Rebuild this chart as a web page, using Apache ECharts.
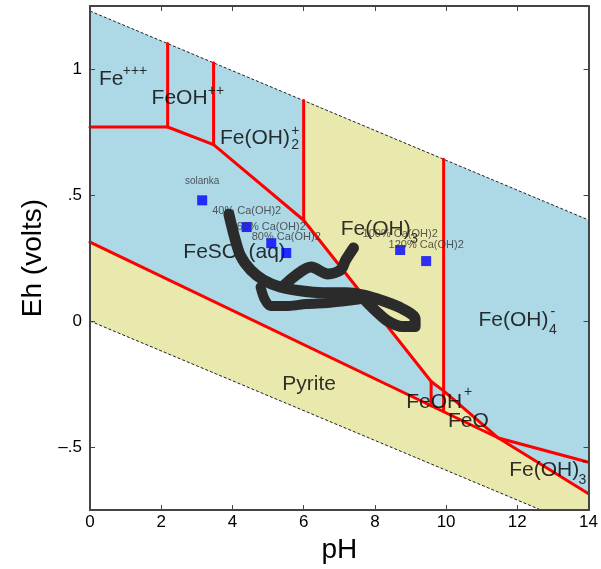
<!DOCTYPE html>
<html><head><meta charset="utf-8">
<script src="https://cdn.jsdelivr.net/npm/echarts@6/dist/echarts.min.js"></script>
<style>html,body{margin:0;padding:0;background:#fff}#c{width:601px;height:569px}</style>
</head><body><div id="c"></div>
<script>
// ---- axes ----
const xTicks = [0, 2, 4, 6, 8, 10, 12, 14];
const yTicks = [-0.5, 0, 0.5, 1];
const yTickLabels = ['\u2013.5', '0', '.5', '1'];

// ---- water stability limits (pH, Eh) ----
const waterTop = [[0, 1.23], [14, 0.401]];
const waterBottom = [[0, 0], [12.67, -0.75]];

// ---- predominance fields (pH, Eh) ----
const stableBand = [[0, 0], [0, 1.23], [14, 0.401], [14, -0.75], [12.67, -0.75]];
const fieldFeOH3 = [[6, 0.40], [6, 0.875], [9.93, 0.642], [9.93, -0.277], [9.58, -0.24]];
const fieldFeO = [[9.93, -0.277], [11.47, -0.464], [9.93, -0.359]];
const fieldPyrite = [[0, 0.313], [11.47, -0.464], [14, -0.685], [14, -0.75], [12.67, -0.75], [0, 0]];

// ---- field boundaries ----
const bMain = [[0, 0.77], [2.18, 0.77], [3.47, 0.70], [6, 0.40], [9.58, -0.24], [9.93, -0.277], [11.47, -0.464], [14, -0.56]];
const bFe3 = [[2.18, 0.77], [2.18, 1.101]];
const bFeOH = [[3.47, 0.70], [3.47, 1.025]];
const bFeOH2 = [[6, 0.40], [6, 0.875]];
const bFeOH4 = [[9.93, 0.642], [9.93, -0.359]];
const bFeOHp = [[9.58, -0.24], [9.58, -0.336]];
const bPyrite = [[0, 0.313], [11.47, -0.464], [14, -0.685]];

// ---- field labels ----
const fieldText = ['Fe', '+++', 'FeOH', '++', 'Fe(OH)', '2', '+', 'FeSO', '4', '(aq)', 'Fe(OH)', '3',
  'Fe(OH)', '4', '-', 'Pyrite', 'FeOH', '+', 'FeO', 'Fe(OH)', '3', '-'];
const fieldKind = ['m', 's', 'm', 's', 'm', 's', 's', 'm', 's', 'm', 'm', 's',
  'm', 's', 's', 'm', 'm', 's', 'm', 'm', 's', 's'];
const fieldPH = [0.25, 0.92, 1.73, 3.31, 3.65, 5.65, 5.65, 2.62, 4.14, 4.45, 7.04, 8.99,
  10.91, 12.89, 12.93, 5.40, 8.88, 10.50, 10.05, 11.77, 13.72, 13.82];
const fieldEh = [0.958, 0.993, 0.886, 0.914, 0.724, 0.697, 0.752, 0.274, 0.238, 0.274, 0.365, 0.325,
  0.005, -0.035, 0.035, -0.252, -0.323, -0.283, -0.398, -0.592, -0.631, -0.560];

// ---- samples ----
const sampleNames = ['solanka', '40% Ca(OH)2', '60% Ca(OH)2', '80% Ca(OH)2', '100% Ca(OH)2', '120% Ca(OH)2'];
const samplePH = [3.15, 4.40, 5.09, 5.51, 8.71, 9.44];
const sampleEh = [0.479, 0.373, 0.309, 0.270, 0.282, 0.238];

// ---- hand-drawn trace ----
const traceMain = [[3.90, 0.424], [4.06, 0.333], [4.23, 0.258], [4.51, 0.203], [4.87, 0.163], [5.34, 0.135],
  [5.90, 0.120], [6.54, 0.112], [7.18, 0.112], [7.65, 0.104], [8.21, 0.081], [8.77, 0.049], [9.13, 0.009],
  [9.13, -0.022], [8.77, -0.022], [8.35, 0.001], [8.02, 0.041], [7.74, 0.080]];
const traceUpper = [[5.43, 0.139], [5.79, 0.183], [6.21, 0.214], [6.68, 0.187], [7.04, 0.203], [7.18, 0.242], [7.40, 0.290]];
const traceLower = [[4.79, 0.135], [4.90, 0.088], [5.07, 0.060], [5.57, 0.060], [6.07, 0.068], [6.68, 0.072], [7.24, 0.080], [7.65, 0.088]];

const BLUE = '#add8e6', YELLOW = '#e9e8ad', RED = '#ff0000', INK = '#2b2b2b';
const FONT = '"Liberation Sans", Arial, sans-serif';

function polySeries(poly, color, z) {
  return {
    type: 'custom', coordinateSystem: 'cartesian2d', z: z, silent: true, animation: false,
    data: [poly[0]],
    renderItem: function (params, api) {
      return { type: 'polygon', shape: { points: poly.map(function (p) { return api.coord(p); }) }, style: { fill: color } };
    }
  };
}
function lineSeries(pts, color, width, z, extra) {
  return Object.assign({
    type: 'line', data: pts, symbol: 'none', silent: true, z: z, animation: false,
    lineStyle: { color: color, width: width, cap: 'round', join: 'round' }
  }, extra || {});
}
const axisLineStyle = { show: true, onZero: false, lineStyle: { color: '#444', width: 2 } };
const tickStyle = { show: true, inside: true, length: 5, lineStyle: { color: '#444', width: 1 } };

const chart = echarts.init(document.getElementById('c'), null, { renderer: 'canvas' });
chart.setOption({
  animation: false,
  textStyle: { fontFamily: FONT },
  grid: { left: 90, right: 8, top: 6, bottom: 57 },
  xAxis: [
    { type: 'value', min: 0, max: 14, interval: 2, position: 'bottom', z: 20,
      axisLine: axisLineStyle, axisTick: tickStyle,
      axisLabel: { fontSize: 17, color: '#000', margin: 4, fontFamily: FONT },
      splitLine: { show: false },
      name: 'pH', nameLocation: 'middle', nameGap: 21,
      nameTextStyle: { fontSize: 28, color: '#000', fontFamily: FONT } },
    { type: 'value', min: 0, max: 14, interval: 2, position: 'top', z: 20,
      axisLine: axisLineStyle, axisTick: tickStyle, axisLabel: { show: false }, splitLine: { show: false } }
  ],
  yAxis: [
    { type: 'value', min: -0.75, max: 1.25, position: 'left', z: 20,
      axisLine: axisLineStyle,
      axisTick: Object.assign({ customValues: yTicks }, tickStyle),
      axisLabel: { fontSize: 17, color: '#000', margin: 8, fontFamily: FONT, customValues: yTicks,
        formatter: function (v) { for (let i = 0; i < yTicks.length; i++) if (Math.abs(yTicks[i] - v) < 1e-6) return yTickLabels[i]; return ''; } },
      splitLine: { show: false },
      name: 'Eh (volts)', nameLocation: 'middle', nameGap: 43,
      nameTextStyle: { fontSize: 28, color: '#000', fontFamily: FONT } },
    { type: 'value', min: -0.75, max: 1.25, position: 'right', z: 20,
      axisLine: axisLineStyle,
      axisTick: Object.assign({ customValues: yTicks }, tickStyle),
      axisLabel: { show: false }, splitLine: { show: false } }
  ],
  series: [
    polySeries(stableBand, BLUE, 1),
    polySeries(fieldFeOH3, YELLOW, 2),
    polySeries(fieldFeO, YELLOW, 2),
    polySeries(fieldPyrite, YELLOW, 2),
    lineSeries(waterTop, '#222', 1, 3, { lineStyle: { color: '#222', width: 1, type: [3, 2] } }),
    lineSeries(waterBottom, '#222', 1, 3, { lineStyle: { color: '#222', width: 1, type: [3, 2] } }),
    lineSeries(bMain, RED, 3, 4),
    lineSeries(bFe3, RED, 3, 4),
    lineSeries(bFeOH, RED, 3, 4),
    lineSeries(bFeOH2, RED, 3, 4),
    lineSeries(bFeOH4, RED, 3, 4),
    lineSeries(bFeOHp, RED, 3, 4),
    lineSeries(bPyrite, RED, 3, 4),
    {
      type: 'scatter', z: 6, silent: true, animation: false, symbolSize: 0,
      data: fieldText.map(function (t, i) {
        const main = fieldKind[i] === 'm';
        return { value: [fieldPH[i], fieldEh[i]], label: { show: true, formatter: t, position: 'right', distance: 0,
          fontSize: main ? 21 : 14, color: '#000', fontFamily: FONT } };
      })
    },
    {
      type: 'scatter', z: 7, silent: true, animation: false, symbol: 'rect', symbolSize: 10,
      itemStyle: { color: '#0000ff' },
      data: sampleNames.map(function (n, i) {
        return { value: [samplePH[i], sampleEh[i]], label: { show: true, formatter: n, position: 'top',
          distance: i === 0 ? 9 : 6, fontSize: i === 0 ? 10 : 11, color: '#333', fontFamily: FONT } };
      })
    },
    lineSeries(traceMain, INK, 11, 8, { smooth: 0.3 }),
    lineSeries(traceUpper, INK, 11, 8, { smooth: 0.3 }),
    lineSeries(traceLower, INK, 10, 8, { smooth: 0.3 })
  ]
});
</script></body></html>
